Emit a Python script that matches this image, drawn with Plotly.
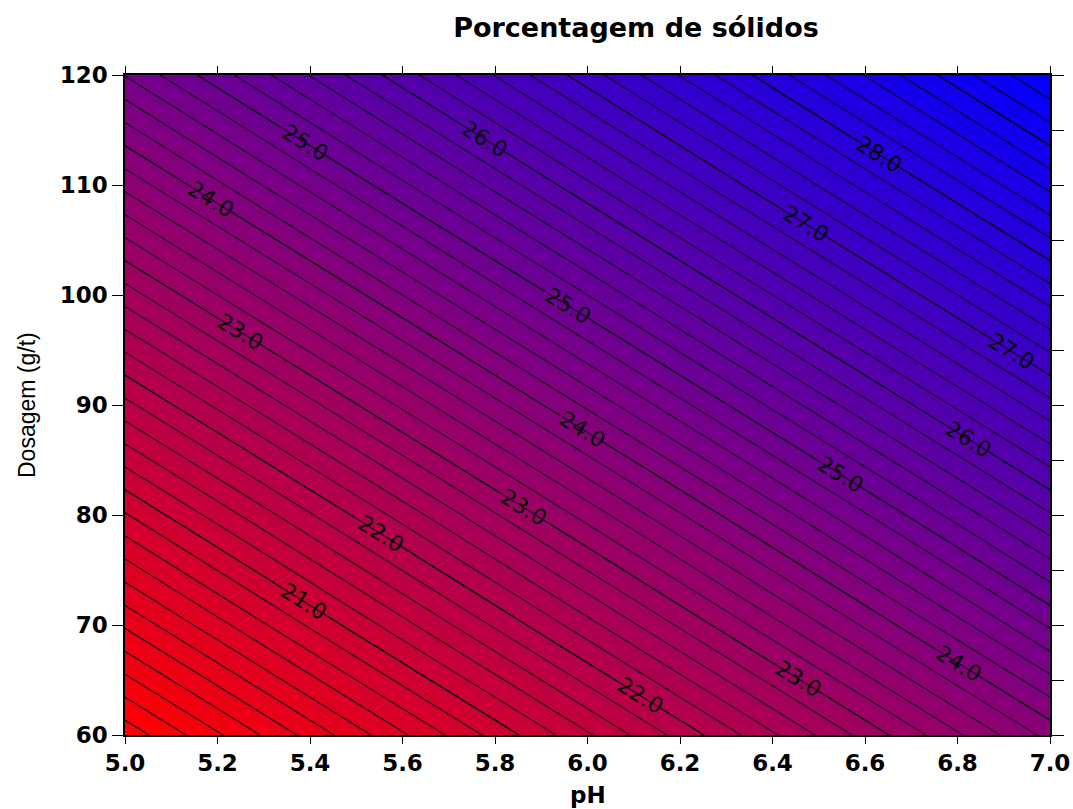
import plotly.graph_objects as go

# Data
ph_values = [5.0, 5.5, 6.0, 6.5, 7.0]
dosage_values = [60, 70, 80, 90, 100, 110, 120]
solids_pct = [
    [18.87, 20.12, 21.37, 22.62, 23.87],
    [19.83, 21.08, 22.33, 23.58, 24.83],
    [20.78, 22.03, 23.28, 24.53, 25.78],
    [21.74, 22.99, 24.24, 25.49, 26.74],
    [22.70, 23.95, 25.20, 26.45, 27.70],
    [23.66, 24.91, 26.16, 27.41, 28.66],
    [24.61, 25.86, 27.11, 28.36, 29.61],
]

title_text = "Porcentagem de sólidos"
x_title = "pH"
y_title = "Dosagem (g/t)"

line_style = dict(color="rgba(15,0,25,0.8)", width=1.4, smoothing=1)
label_font = dict(family="DejaVu Sans", size=22, color="black")

fig = go.Figure()

# Filled gradient with fine contour lines (step 0.2)
fig.add_trace(go.Contour(
    x=ph_values, y=dosage_values, z=solids_pct,
    colorscale=[[0, "rgb(255,0,0)"], [1, "rgb(0,0,255)"]],
    zmin=18.87, zmax=29.61,
    contours=dict(start=18.0, end=30.0, size=0.2, coloring="heatmap", showlabels=False),
    line=line_style,
    showscale=False, hoverinfo="skip",
))

# Labelled 21.0 contour (single label)
fig.add_trace(go.Contour(
    x=ph_values, y=dosage_values, z=solids_pct,
    contours=dict(start=21.0, end=21.0, size=1.0, coloring="none", showlabels=True,
                  labelformat=".1f", labelfont=label_font),
    line=line_style,
    showscale=False, hoverinfo="skip",
))

# Labelled 22-28 contours (level range extended upward only to tune label spacing)
fig.add_trace(go.Contour(
    x=ph_values, y=dosage_values, z=solids_pct,
    contours=dict(start=22.0, end=74.0, size=1.0, coloring="none", showlabels=True,
                  labelformat=".1f", labelfont=label_font),
    line=line_style,
    showscale=False, hoverinfo="skip",
))

# dummy trace for right axis
fig.add_trace(go.Scatter(x=[5.0], y=[60], yaxis="y2", mode="markers",
                         marker=dict(opacity=0), showlegend=False, hoverinfo="skip"))

tickfont = dict(family="DejaVu Sans", size=23, color="black", weight="bold")

fig.update_layout(
    width=1073, height=809,
    margin=dict(l=125, r=23, t=75, b=74, autoexpand=False),
    paper_bgcolor="white", plot_bgcolor="white",
    showlegend=False,
    title=dict(text=title_text, x=0.5524, xref="paper", y=1 - 28 / 809, yref="container",
               xanchor="center", yanchor="middle",
               font=dict(family="DejaVu Sans", size=27, color="black", weight="bold")),
    xaxis=dict(range=[5.0, 7.0], dtick=0.2, tick0=5.0, tickformat=".1f", automargin=False,
               showgrid=False, zeroline=False, showline=True, linecolor="black", linewidth=1.5,
               mirror="ticks", ticks="outside", ticklen=7, tickwidth=1.2, tickcolor="black",
               tickfont=tickfont),
    yaxis=dict(range=[60, 120], dtick=10, tick0=60, automargin=False,
               showgrid=False, zeroline=False, showline=True, linecolor="black", linewidth=1.5,
               ticks="outside", ticklen=11, tickwidth=1.2, tickcolor="black",
               tickfont=tickfont),
    yaxis2=dict(range=[60, 120], dtick=5, tick0=60, overlaying="y", side="right",
                automargin=False,
                showgrid=False, zeroline=False, showline=True, linecolor="black", linewidth=1.5,
                ticks="outside", ticklen=12, tickwidth=1.2, tickcolor="black",
                showticklabels=False),
    annotations=[
        dict(text=x_title, x=0.5, xref="paper", y=0, yref="paper",
             yanchor="middle", yshift=-60, showarrow=False,
             font=dict(family="DejaVu Sans", size=23, color="black", weight="bold")),
        dict(text=y_title, textangle=-90, x=0, xref="paper", y=0.5, yref="paper",
             xshift=-113, showarrow=False,
             font=dict(family="Liberation Sans, Arial", size=23, color="black")),
    ],
)

fig.write_html("out.html")
